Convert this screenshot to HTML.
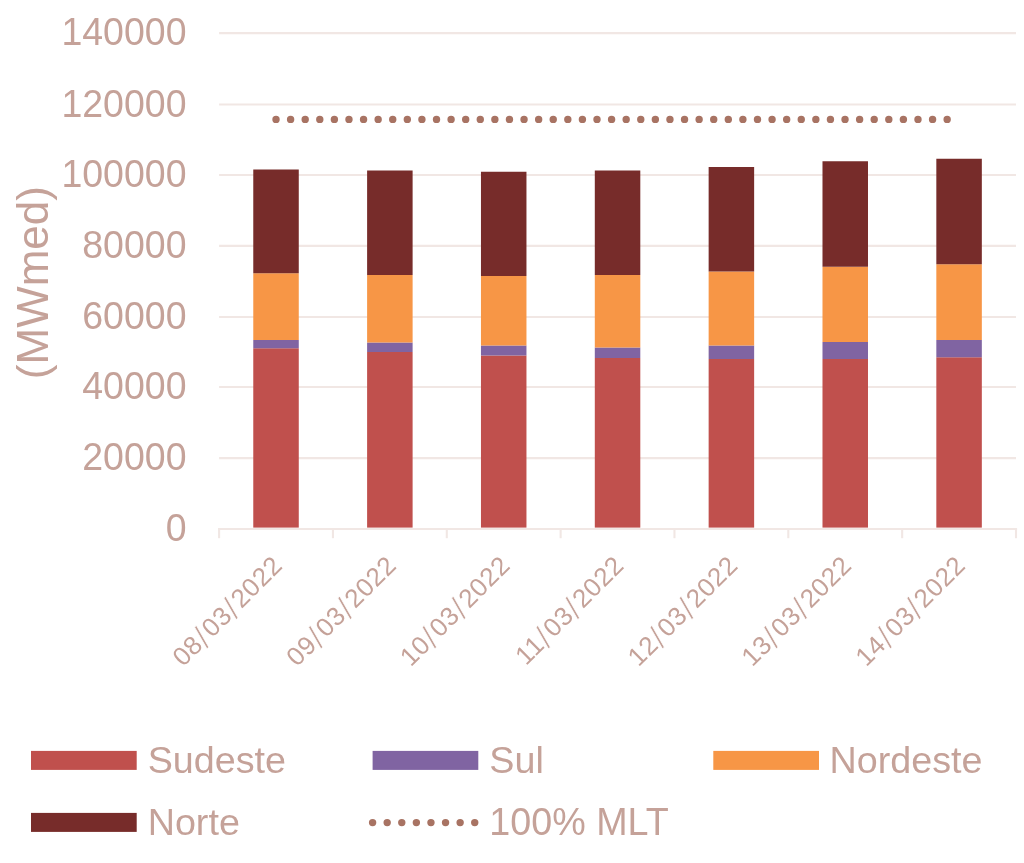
<!DOCTYPE html>
<html lang="pt-BR">
<head>
<meta charset="utf-8">
<title>Energia Natural Afluente (MWmed)</title>
<style>
html,body{margin:0;padding:0;background:#fff}
body{width:1024px;height:863px;overflow:hidden}
svg{display:block}
svg text{font-family:"Liberation Sans",sans-serif;fill:#c5a299}
.yl{font-size:37.5px;text-anchor:end}
.lg{font-size:37.7px}
.xl{font-size:26px;letter-spacing:0.55px;text-anchor:end}
.xl .s{font-size:33px;letter-spacing:2px;stroke:#fff;stroke-width:0.7px}
.yt{font-size:44px;text-anchor:middle}
</style>
</head>
<body>
<svg width="1024" height="863" viewBox="0 0 1024 863">
<rect width="1024" height="863" fill="#ffffff"/>
<g stroke="#f1e7e4" stroke-width="2.1" fill="none">
<line x1="218.0" y1="529.00" x2="1017.1" y2="529.00"/>
<line x1="219.1" y1="458.10" x2="1016.0" y2="458.10"/>
<line x1="219.1" y1="387.00" x2="1016.0" y2="387.00"/>
<line x1="219.1" y1="317.00" x2="1016.0" y2="317.00"/>
<line x1="219.1" y1="245.90" x2="1016.0" y2="245.90"/>
<line x1="219.1" y1="175.00" x2="1016.0" y2="175.00"/>
<line x1="219.1" y1="104.50" x2="1016.0" y2="104.50"/>
<line x1="219.1" y1="33.10" x2="1016.0" y2="33.10"/>
<line x1="219.10" y1="529.0" x2="219.10" y2="538.2"/>
<line x1="332.94" y1="529.0" x2="332.94" y2="538.2"/>
<line x1="446.79" y1="529.0" x2="446.79" y2="538.2"/>
<line x1="560.63" y1="529.0" x2="560.63" y2="538.2"/>
<line x1="674.47" y1="529.0" x2="674.47" y2="538.2"/>
<line x1="788.31" y1="529.0" x2="788.31" y2="538.2"/>
<line x1="902.16" y1="529.0" x2="902.16" y2="538.2"/>
<line x1="1016.00" y1="529.0" x2="1016.00" y2="538.2"/>
</g>
<g shape-rendering="auto">
<rect x="253.27" y="348.25" width="45.5" height="179.35" fill="#c0504d"/>
<rect x="253.27" y="340.00" width="45.5" height="8.25" fill="#8064a2"/>
<rect x="253.27" y="273.25" width="45.5" height="66.75" fill="#f79646"/>
<rect x="253.27" y="169.50" width="45.5" height="103.75" fill="#772c2a"/>
<rect x="367.11" y="352.00" width="45.5" height="175.60" fill="#c0504d"/>
<rect x="367.11" y="342.50" width="45.5" height="9.50" fill="#8064a2"/>
<rect x="367.11" y="275.00" width="45.5" height="67.50" fill="#f79646"/>
<rect x="367.11" y="170.50" width="45.5" height="104.50" fill="#772c2a"/>
<rect x="480.96" y="355.50" width="45.5" height="172.10" fill="#c0504d"/>
<rect x="480.96" y="345.50" width="45.5" height="10.00" fill="#8064a2"/>
<rect x="480.96" y="276.00" width="45.5" height="69.50" fill="#f79646"/>
<rect x="480.96" y="171.75" width="45.5" height="104.25" fill="#772c2a"/>
<rect x="594.80" y="358.00" width="45.5" height="169.60" fill="#c0504d"/>
<rect x="594.80" y="347.50" width="45.5" height="10.50" fill="#8064a2"/>
<rect x="594.80" y="275.00" width="45.5" height="72.50" fill="#f79646"/>
<rect x="594.80" y="170.50" width="45.5" height="104.50" fill="#772c2a"/>
<rect x="708.64" y="359.00" width="45.5" height="168.60" fill="#c0504d"/>
<rect x="708.64" y="345.50" width="45.5" height="13.50" fill="#8064a2"/>
<rect x="708.64" y="271.50" width="45.5" height="74.00" fill="#f79646"/>
<rect x="708.64" y="167.00" width="45.5" height="104.50" fill="#772c2a"/>
<rect x="822.49" y="359.00" width="45.5" height="168.60" fill="#c0504d"/>
<rect x="822.49" y="342.00" width="45.5" height="17.00" fill="#8064a2"/>
<rect x="822.49" y="266.75" width="45.5" height="75.25" fill="#f79646"/>
<rect x="822.49" y="161.25" width="45.5" height="105.50" fill="#772c2a"/>
<rect x="936.33" y="357.25" width="45.5" height="170.35" fill="#c0504d"/>
<rect x="936.33" y="340.00" width="45.5" height="17.25" fill="#8064a2"/>
<rect x="936.33" y="264.25" width="45.5" height="75.75" fill="#f79646"/>
<rect x="936.33" y="158.75" width="45.5" height="105.50" fill="#772c2a"/>
</g>
<line x1="276.02" y1="119.4" x2="959.08" y2="119.4" stroke="#a87363" stroke-width="7.4" stroke-linecap="round" stroke-dasharray="0 14.59"/>
<text class="yl" transform="translate(186.5 541.2) scale(1 1.055)">0</text>
<text class="yl" transform="translate(186.5 470.3) scale(1 1.055)">20000</text>
<text class="yl" transform="translate(186.5 399.2) scale(1 1.055)">40000</text>
<text class="yl" transform="translate(186.5 329.2) scale(1 1.055)">60000</text>
<text class="yl" transform="translate(186.5 258.1) scale(1 1.055)">80000</text>
<text class="yl" transform="translate(186.5 187.2) scale(1 1.055)">100000</text>
<text class="yl" transform="translate(186.5 116.7) scale(1 1.055)">120000</text>
<text class="yl" transform="translate(186.5 45.3) scale(1 1.055)">140000</text>
<text class="yt" transform="translate(48.4 282.6) rotate(-90)">(MWmed)</text>
<text class="xl" transform="translate(277.3 560.2) rotate(-45)" x="0" y="9.3">08<tspan class="s" dy="3.5">/</tspan><tspan dy="-3.5">03</tspan><tspan class="s" dy="3.5">/</tspan><tspan dy="-3.5">2022</tspan></text>
<text class="xl" transform="translate(391.2 560.2) rotate(-45)" x="0" y="9.3">09<tspan class="s" dy="3.5">/</tspan><tspan dy="-3.5">03</tspan><tspan class="s" dy="3.5">/</tspan><tspan dy="-3.5">2022</tspan></text>
<text class="xl" transform="translate(505.0 560.2) rotate(-45)" x="0" y="9.3">10<tspan class="s" dy="3.5">/</tspan><tspan dy="-3.5">03</tspan><tspan class="s" dy="3.5">/</tspan><tspan dy="-3.5">2022</tspan></text>
<text class="xl" transform="translate(618.8 560.2) rotate(-45)" x="0" y="9.3">11<tspan class="s" dy="3.5">/</tspan><tspan dy="-3.5">03</tspan><tspan class="s" dy="3.5">/</tspan><tspan dy="-3.5">2022</tspan></text>
<text class="xl" transform="translate(732.7 560.2) rotate(-45)" x="0" y="9.3">12<tspan class="s" dy="3.5">/</tspan><tspan dy="-3.5">03</tspan><tspan class="s" dy="3.5">/</tspan><tspan dy="-3.5">2022</tspan></text>
<text class="xl" transform="translate(846.5 560.2) rotate(-45)" x="0" y="9.3">13<tspan class="s" dy="3.5">/</tspan><tspan dy="-3.5">03</tspan><tspan class="s" dy="3.5">/</tspan><tspan dy="-3.5">2022</tspan></text>
<text class="xl" transform="translate(960.4 560.2) rotate(-45)" x="0" y="9.3">14<tspan class="s" dy="3.5">/</tspan><tspan dy="-3.5">03</tspan><tspan class="s" dy="3.5">/</tspan><tspan dy="-3.5">2022</tspan></text>
<rect x="31.0" y="750.9" width="105.7" height="19" fill="#c0504d"/>
<text class="lg" x="147.7" y="772.5">Sudeste</text>
<rect x="372.6" y="750.9" width="105.7" height="19" fill="#8064a2"/>
<text class="lg" x="489.3" y="772.5">Sul</text>
<rect x="713.3" y="750.9" width="105.7" height="19" fill="#f79646"/>
<text class="lg" x="829.5" y="772.5">Nordeste</text>
<rect x="31.0" y="812.9" width="105.7" height="19" fill="#772c2a"/>
<text class="lg" x="147.7" y="834.5">Norte</text>
<line x1="372.6" y1="822.6" x2="476" y2="822.6" stroke="#a87363" stroke-width="7.4" stroke-linecap="round" stroke-dasharray="0 14.59"/>
<text class="lg" transform="translate(489.3 834.5) scale(1 1.045)">100% MLT</text>
</svg>
</body>
</html>
